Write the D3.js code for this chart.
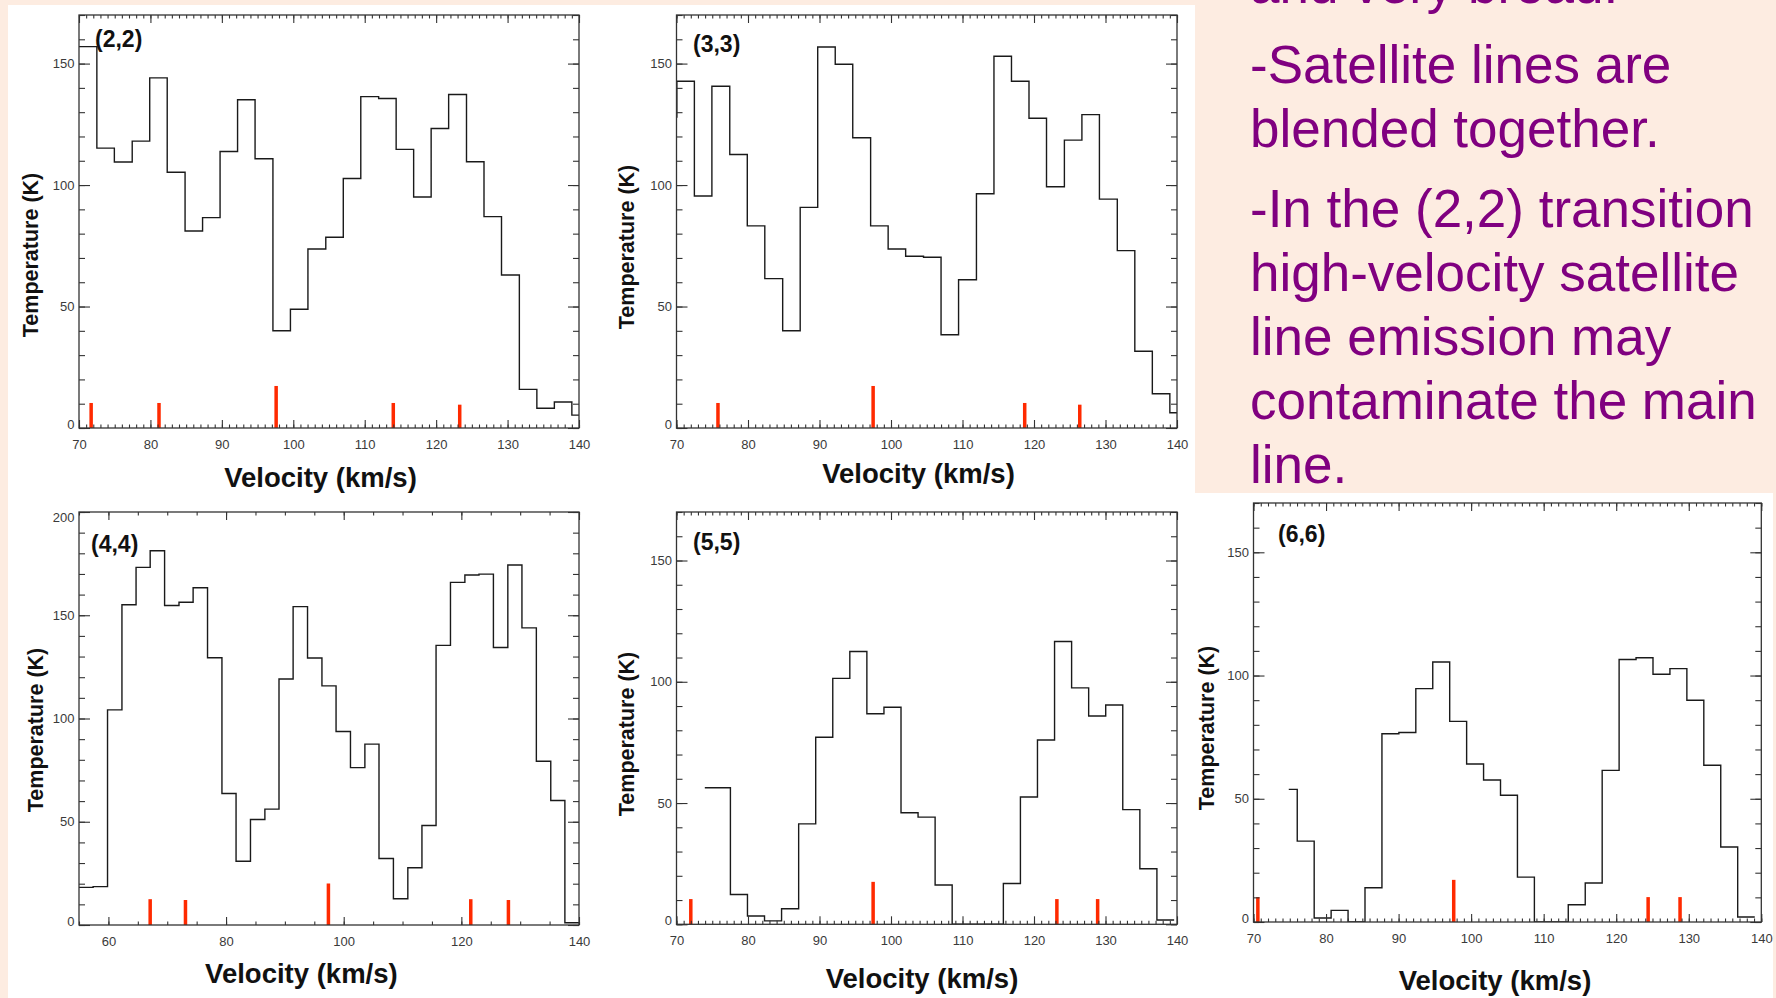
<!DOCTYPE html>
<html>
<head>
<meta charset="utf-8">
<script src="https://cdn.jsdelivr.net/npm/d3@7"></script>
<style>
  html, body { margin: 0; padding: 0; background: #fdece1; }
  svg { display: block; }
</style>
</head>
<body>
<svg id="page" width="1776" height="998"></svg>
<script>
// ---- Spectra: channel velocity (km/s) and brightness temperature (K) ----
const vel22 = [68.8, 71.3, 73.7, 76.2, 78.7, 81.1, 83.6, 86.1, 88.5, 91.0, 93.4, 95.9, 98.4, 100.8, 103.3,
  105.8, 108.2, 110.7, 113.2, 115.6, 118.1, 120.5, 123.0, 125.5, 127.9, 130.4, 132.9, 135.3, 137.8, 140.2];
const temp22 = [157, 157, 115.2, 109.5, 118.1, 144.1, 105.3, 81.1, 86.6, 113.8, 135.1, 110.8, 40.0, 48.9, 73.7,
  78.5, 102.7, 136.4, 135.6, 114.7, 95.1, 123.3, 137.3, 109.6, 87.0, 63.0, 15.9, 8.1, 10.7, 5.3];

const vel33 = [68.8, 71.3, 73.7, 76.2, 78.7, 81.1, 83.6, 86.1, 88.5, 91.0, 93.4, 95.9, 98.4, 100.8, 103.3,
  105.8, 108.2, 110.7, 113.2, 115.6, 118.1, 120.5, 123.0, 125.5, 127.9, 130.4, 132.9, 135.3, 137.8, 140.2];
const temp33 = [128, 142.7, 95.5, 140.7, 112.6, 83.2, 61.5, 40.0, 90.8, 156.8, 149.7, 119.5, 83.2, 73.7, 70.7,
  70.3, 38.4, 61.0, 96.4, 153.0, 142.7, 127.5, 99.3, 118.5, 129.0, 94.2, 73.0, 31.6, 14.1, 6.3];

const vel44 = [53.8, 56.2, 58.6, 61.1, 63.5, 65.9, 68.3, 70.8, 73.2, 75.6, 78.1, 80.5, 82.9, 85.4, 87.8, 90.2,
  92.6, 95.1, 97.5, 99.9, 102.4, 104.8, 107.2, 109.7, 112.1, 114.5, 116.9, 119.4, 121.8, 124.2, 126.7, 129.1,
  131.5, 134.0, 136.4, 138.8, 141.2];
const temp44 = [18.2, 18.2, 18.6, 104.2, 155.1, 173.2, 181.2, 154.7, 156.3, 163.3, 129.4, 63.7, 30.9, 51.1, 56.1,
  119.1, 154.2, 129.3, 115.8, 93.7, 76.2, 87.6, 32.2, 12.7, 27.7, 48.2, 135.4, 165.9, 169.5, 169.9, 134.4, 174.3,
  143.9, 79.3, 60.3, 1.1, 1.1];

const vel55 = [73.96, 76.35, 78.73, 81.12, 83.50, 85.89, 88.28, 90.66, 93.05, 95.43, 97.82, 100.21, 102.59, 104.98,
  107.36, 109.75, 112.14, 114.52, 116.91, 119.29, 121.68, 124.07, 126.45, 128.84, 131.22, 133.61, 136.00, 138.38, 139.6];
const temp55 = [56.3, 56.3, 12.3, 3.4, 1.4, 6.4, 41.4, 77.1, 101.4, 112.5, 86.8, 89.5, 46.0, 44.2, 16.2, 0, 0, 0,
  16.8, 52.5, 76.0, 116.6, 97.5, 85.9, 90.4, 47.3, 22.9, 1.8, 1.8];

const vel66 = [74.86, 77.20, 79.53, 81.87, 84.20, 86.54, 88.87, 91.21, 93.54, 95.88, 98.21, 100.55, 102.88, 105.22,
  107.55, 109.89, 112.22, 114.56, 116.90, 119.23, 121.57, 123.90, 126.24, 128.57, 130.91, 133.24, 135.58, 137.91, 139.1];
const temp66 = [53.8, 32.8, 1.6, 4.7, 0, 13.9, 76.4, 76.9, 94.7, 105.5, 81.4, 64.1, 57.6, 51.4, 18.2, 0, 0, 7.0,
  15.8, 61.5, 106.5, 107.2, 100.5, 102.8, 90.0, 63.6, 30.4, 2.0, 2.0];

// ---- Hyperfine component positions (km/s) and relative strengths (K) ----
const hfVel22 = [71.7, 81.2, 97.6, 114.0, 123.3];
const hfAmp22 = [10.3, 10.3, 17.3, 10.3, 9.6];
const hfVel33 = [75.8, 97.5, 118.7, 126.4];
const hfAmp33 = [10.3, 17.3, 10.3, 9.6];
const hfVel44 = [67.1, 73.1, 97.4, 121.6, 128.0];
const hfAmp44 = [12.5, 12.1, 20.1, 12.5, 12.1];
const hfVel55 = [72.0, 97.5, 123.2, 128.9];
const hfAmp55 = [10.4, 17.5, 10.4, 10.4];
const hfVel66 = [70.6, 97.6, 124.4, 128.8];
const hfAmp66 = [10.1, 17.1, 10.1, 10.1];

// ---- Tick labels ----
const xTicks70 = [70, 80, 90, 100, 110, 120, 130, 140];
const xTicks55 = [60, 80, 100, 120, 140];
const yTicks170 = [0, 50, 100, 150];
const yTicks200 = [0, 50, 100, 150, 200];

// ---- Slide notes ----
const notes = [
  ["and very broad."],
  ["-Satellite lines are", "blended together."],
  ["-In the (2,2) transition", "high-velocity satellite", "line emission may", "contaminate the main", "line."]
];

const panels = [
  { tag: "(2,2)", vel: vel22, temp: temp22, hv: hfVel22, ha: hfAmp22, xd: [70, 140], yd: [0, 170],
    xt: xTicks70, xMinor: 1, yt: yTicks170, yMinor: 10,
    box: [79, 15, 579, 428], xTitle: [320.5, 487], yTitle: [38, 255], tagPos: [95, 46.5] },
  { tag: "(3,3)", vel: vel33, temp: temp33, hv: hfVel33, ha: hfAmp33, xd: [70, 140], yd: [0, 170],
    xt: xTicks70, xMinor: 1, yt: yTicks170, yMinor: 10,
    box: [676.5, 15, 1177, 428], xTitle: [918.5, 483], yTitle: [633.7, 247], tagPos: [693, 51.5] },
  { tag: "(4,4)", vel: vel44, temp: temp44, hv: hfVel44, ha: hfAmp44, xd: [55, 140], yd: [0, 200],
    xt: xTicks55, xMinor: 5, yt: yTicks200, yMinor: 10,
    box: [79, 512, 579, 925], xTitle: [301.4, 983], yTitle: [42.9, 730], tagPos: [91, 551.5] },
  { tag: "(5,5)", vel: vel55, temp: temp55, hv: hfVel55, ha: hfAmp55, xd: [70, 140], yd: [0, 170],
    xt: xTicks70, xMinor: 1, yt: yTicks170, yMinor: 10,
    box: [676.5, 512, 1177, 924.3], xTitle: [922, 988], yTitle: [633.7, 734], tagPos: [693, 550] },
  { tag: "(6,6)", vel: vel66, temp: temp66, hv: hfVel66, ha: hfAmp66, xd: [70, 140], yd: [0, 170],
    xt: xTicks70, xMinor: 1, yt: yTicks170, yMinor: 10,
    box: [1253.5, 503, 1761.3, 922], xTitle: [1495, 990], yTitle: [1214, 728], tagPos: [1278, 541.5] }
];

const svg = d3.select("#page");
const FONT = "'Liberation Sans', Arial, Helvetica, sans-serif";

// slide background: peach frame with white plotting area
svg.append("rect").attr("width", 1776).attr("height", 998).attr("fill", "#fdece1");
svg.append("rect").attr("x", 8).attr("y", 5).attr("width", 1187).attr("height", 993).attr("fill", "#ffffff");
svg.append("rect").attr("x", 8).attr("y", 493).attr("width", 1765).attr("height", 505).attr("fill", "#ffffff");

// notes in the upper right
const noteG = svg.append("g")
  .attr("font-family", FONT).attr("font-size", 53).attr("fill", "#800080");
let baseline = 3;
notes.forEach((para, pi) => {
  if (pi > 0) baseline += 16;
  para.forEach((line, li) => {
    if (pi > 0 || li > 0) baseline += 64;
    noteG.append("text").attr("x", 1250).attr("y", baseline).text(line);
  });
});

panels.forEach((p, idx) => {
  const [L, T, R, B] = p.box;
  const x = d3.scaleLinear().domain(p.xd).range([L, R]);
  const y = d3.scaleLinear().domain(p.yd).range([B, T]);
  const g = svg.append("g");

  const clipId = "clip" + idx;
  g.append("clipPath").attr("id", clipId)
    .append("rect").attr("x", L).attr("y", T).attr("width", R - L).attr("height", B - T);

  // spectrum drawn in histogram mode
  const pts = p.vel.map((v, i) => [v, p.temp[i]]);
  const line = d3.line().x(d => x(d[0])).y(d => y(d[1])).curve(d3.curveStep);
  g.append("path").datum(pts)
    .attr("clip-path", `url(#${clipId})`)
    .attr("d", line)
    .attr("fill", "none").attr("stroke", "#1a1a1a").attr("stroke-width", 1.4);

  // hyperfine component markers
  g.selectAll("rect.hf").data(p.hv.map((v, i) => [v, p.ha[i]])).join("rect")
    .attr("class", "hf")
    .attr("x", d => x(d[0]) - 1.75).attr("width", 3.5)
    .attr("y", d => y(d[1])).attr("height", d => y(0) - y(d[1]))
    .attr("fill", "#ff2a00");

  // inward ticks on all four sides
  const xMinorVals = d3.range(p.xd[0], p.xd[1] + 1e-6, p.xMinor);
  const yMinorVals = d3.range(p.yd[0], p.yd[1] + 1e-6, p.yMinor);
  const styleAxis = sel => {
    sel.attr("color", "#333");
    sel.select(".domain").remove();
    sel.selectAll(".tick line").attr("stroke-width", 1.1);
    sel.selectAll(".tick text").attr("font-family", FONT).attr("font-size", 13).attr("fill", "#3a3a3a");
  };

  g.append("g").attr("transform", `translate(0,${B})`)
    .call(d3.axisBottom(x).tickValues(xMinorVals).tickSize(-3.5).tickFormat(""))
    .call(styleAxis);
  g.append("g").attr("transform", `translate(0,${T})`)
    .call(d3.axisTop(x).tickValues(xMinorVals).tickSize(-3.5).tickFormat(""))
    .call(styleAxis);
  g.append("g").attr("transform", `translate(0,${B})`)
    .call(d3.axisBottom(x).tickValues(p.xt).tickSize(-8).tickPadding(11.8).tickFormat(d3.format("d")))
    .call(styleAxis);
  g.append("g").attr("transform", `translate(0,${T})`)
    .call(d3.axisTop(x).tickValues(p.xt).tickSize(-8).tickFormat(""))
    .call(styleAxis);

  g.append("g").attr("transform", `translate(${L},0)`)
    .call(d3.axisLeft(y).tickValues(yMinorVals).tickSize(-6).tickFormat(""))
    .call(styleAxis);
  g.append("g").attr("transform", `translate(${R},0)`)
    .call(d3.axisRight(y).tickValues(yMinorVals).tickSize(-6).tickFormat(""))
    .call(styleAxis);
  const yLab = g.append("g").attr("transform", `translate(${L},0)`)
    .call(d3.axisLeft(y).tickValues(p.yt).tickSize(-11).tickPadding(4.5).tickFormat(d3.format("d")))
    .call(styleAxis);
  // keep end labels inside the axis range
  yLab.selectAll(".tick text")
    .attr("dy", d => d === p.yd[0] ? "0em" : (d === p.yd[1] ? "0.71em" : "0.32em"));
  g.append("g").attr("transform", `translate(${R},0)`)
    .call(d3.axisRight(y).tickValues(p.yt).tickSize(-11).tickFormat(""))
    .call(styleAxis);

  // plot frame
  g.append("rect").attr("x", L).attr("y", T).attr("width", R - L).attr("height", B - T)
    .attr("fill", "none").attr("stroke", "#333").attr("stroke-width", 1.3);

  // titles
  g.append("text").attr("x", p.xTitle[0]).attr("y", p.xTitle[1])
    .attr("text-anchor", "middle").attr("font-family", FONT).attr("font-weight", "bold")
    .attr("font-size", 27.5).attr("fill", "#111").text("Velocity (km/s)");
  g.append("text")
    .attr("transform", `translate(${p.yTitle[0]},${p.yTitle[1]}) rotate(-90)`)
    .attr("text-anchor", "middle").attr("font-family", FONT).attr("font-weight", "bold")
    .attr("font-size", 21.5).attr("fill", "#111").text("Temperature (K)");
  g.append("text").attr("x", p.tagPos[0]).attr("y", p.tagPos[1])
    .attr("font-family", FONT).attr("font-weight", "bold")
    .attr("font-size", 23).attr("fill", "#111").text(p.tag);
});
</script>
</body>
</html>
